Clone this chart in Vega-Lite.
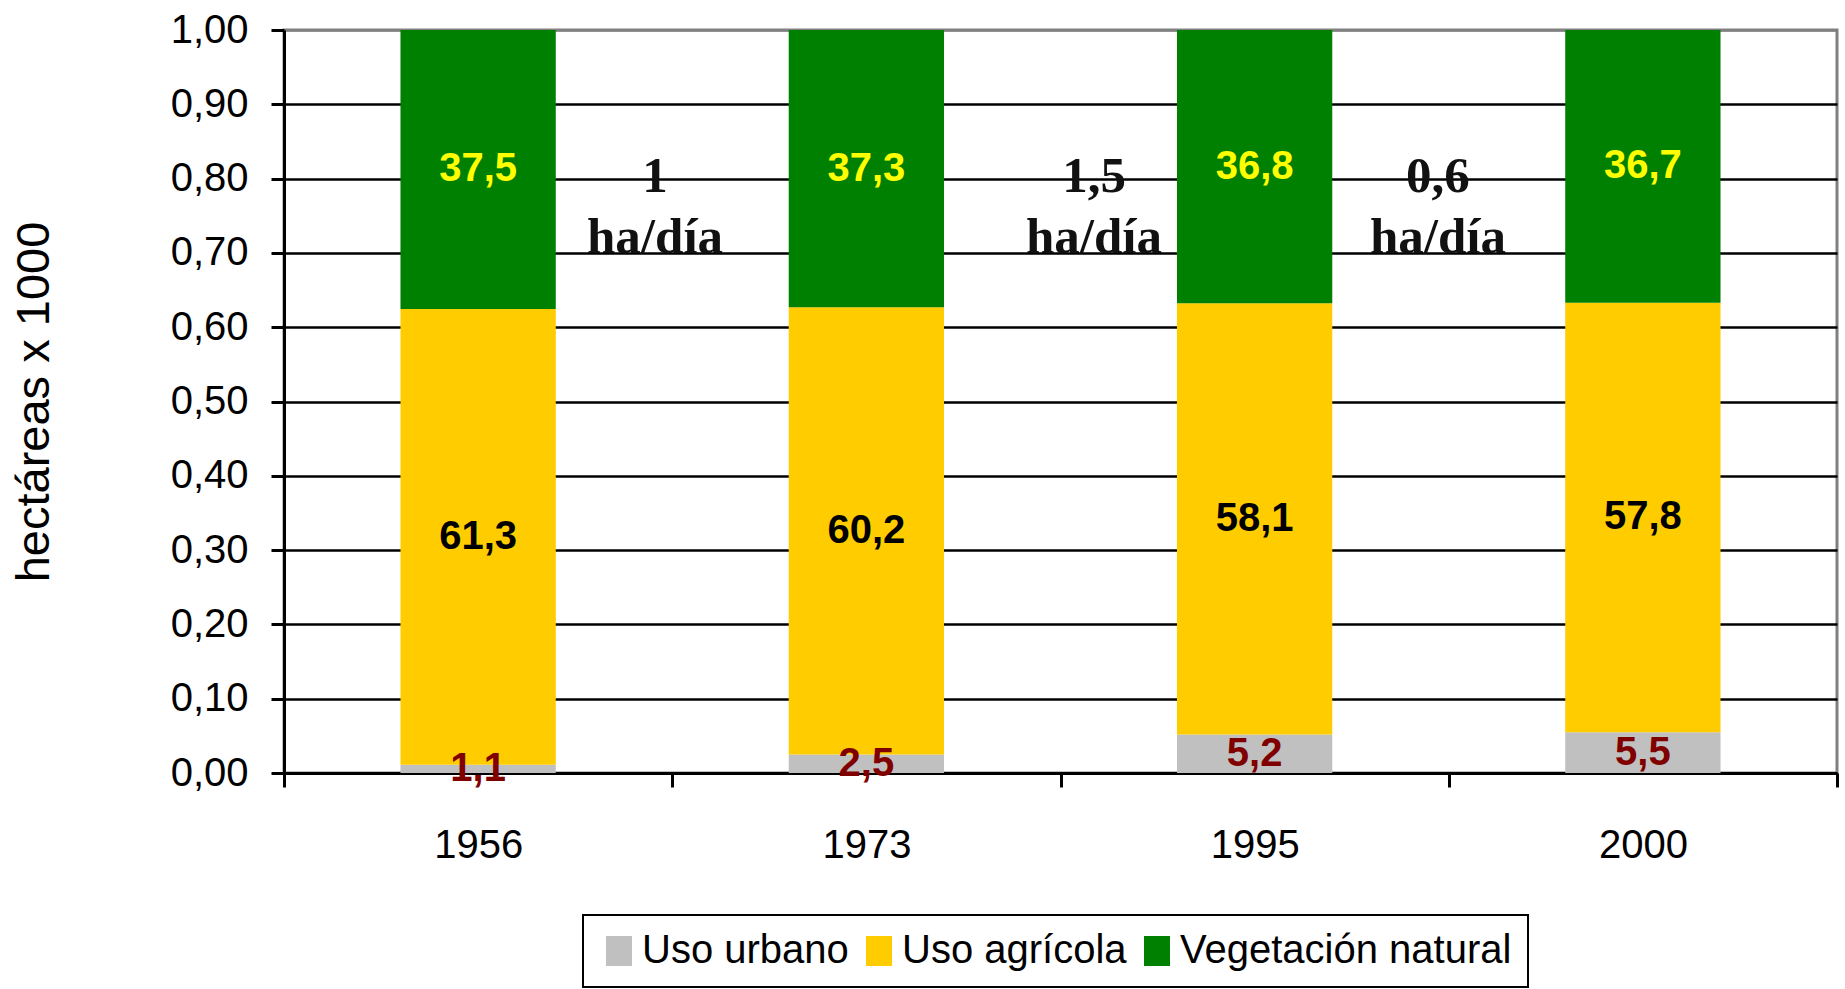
{
  "$schema": "https://vega.github.io/schema/vega-lite/v6.json",
  "width": 1553,
  "height": 743,
  "autosize": {"type": "none"},
  "padding": {"left": 284, "top": 30, "right": 8, "bottom": 216},
  "background": "white",
  "config": {
    "locale": {"number": {"decimal": ",", "thousands": ".", "grouping": [3], "currency": ["", " €"]}},
    "view": {"stroke": "#808080", "strokeWidth": 3},
    "font": "Liberation Sans",
    "axis": {
      "domainColor": "black",
      "domainWidth": 3,
      "tickColor": "black",
      "tickWidth": 3,
      "labelColor": "black",
      "labelFont": "Liberation Sans",
      "labelFontSize": 40,
      "labelFontWeight": "normal"
    },
    "legend": {
      "strokeColor": "black",
      "strokeWidth": 2
    }
  },
  "layer": [
    {
      "data": {"name": "uso", "values": [
        {"year": "1956", "c": "Uso urbano", "v": 1.1},
        {"year": "1956", "c": "Uso agrícola", "v": 61.3},
        {"year": "1956", "c": "Vegetación natural", "v": 37.5},
        {"year": "1973", "c": "Uso urbano", "v": 2.5},
        {"year": "1973", "c": "Uso agrícola", "v": 60.2},
        {"year": "1973", "c": "Vegetación natural", "v": 37.3},
        {"year": "1995", "c": "Uso urbano", "v": 5.2},
        {"year": "1995", "c": "Uso agrícola", "v": 58.1},
        {"year": "1995", "c": "Vegetación natural", "v": 36.8},
        {"year": "2000", "c": "Uso urbano", "v": 5.5},
        {"year": "2000", "c": "Uso agrícola", "v": 57.8},
        {"year": "2000", "c": "Vegetación natural", "v": 36.7}
      ]},
      "transform": [
        {"calculate": "indexof(['Uso urbano','Uso agrícola','Vegetación natural'], datum.c)", "as": "k"},
        {"stack": "v", "groupby": ["year"], "sort": [{"field": "k", "order": "ascending"}], "offset": "normalize", "as": ["y0", "y1"]},
        {"calculate": "(datum.y0 + datum.y1) / 2", "as": "mid"}
      ],
      "layer": [
        {
          "mark": {"type": "bar", "strokeWidth": 0, "width": {"band": 0.4}},
          "encoding": {
            "x": {
              "field": "year", "type": "nominal",
              "scale": {"domain": ["1956", "1973", "1995", "2000"], "paddingInner": 0, "paddingOuter": 0},
              "axis": {"title": null, "labelAngle": 0, "tickBand": "extent", "tickSize": 14, "labelPadding": 38, "grid": false}
            },
            "y": {
              "field": "y0", "type": "quantitative",
              "scale": {"domain": [0, 1], "nice": false, "zero": true},
              "axis": {
                "title": "hectáreas x 1000",
                "titleFont": "Liberation Sans",
                "titleFontSize": 47,
                "titleFontWeight": "normal",
                "titleColor": "black",
                "titlePadding": 112,
                "values": [0, 0.1, 0.2, 0.3, 0.4, 0.5, 0.6, 0.7, 0.8, 0.9, 1],
                "format": ".2f",
                "tickSize": 13,
                "labelPadding": 23,
                "grid": true,
                "gridColor": {"condition": {"test": "datum.value >= 1", "value": "#808080"}, "value": "black"},
                "gridWidth": 2.5
              }
            },
            "y2": {"field": "y1"},
            "color": {
              "field": "c", "type": "nominal",
              "scale": {"domain": ["Uso urbano", "Uso agrícola", "Vegetación natural"], "range": ["#C0C0C0", "#FFCC00", "#008000"]},
              "legend": {
                "title": null,
                "orient": "none",
                "direction": "horizontal",
                "legendX": 299,
                "legendY": 885,
                "labelFont": "Liberation Sans",
                "labelFontSize": 40,
                "labelColor": "black",
                "labelLimit": 0,
                "labelOffset": 3,
                "columnPadding": 10,
                "padding": 16,
                "symbolType": "M-0.867,-1H0.867V1H-0.867Z",
                "symbolSize": 900,
                "symbolStrokeWidth": 0,
                "symbolOpacity": 1,
                "strokeColor": "black"
              }
            }
          }
        },
        {
          "mark": {"type": "text", "font": "Liberation Sans", "fontSize": 40, "fontWeight": "bold", "baseline": "middle", "align": "center"},
          "encoding": {
            "x": {"field": "year", "type": "nominal"},
            "y": {"field": "mid", "type": "quantitative"},
            "text": {"field": "v", "type": "quantitative", "format": ".1f"},
            "fill": {
              "field": "c", "type": "nominal",
              "scale": {"domain": ["Uso urbano", "Uso agrícola", "Vegetación natural"], "range": ["#800000", "#000000", "#FFFF00"]},
              "legend": null
            }
          }
        }
      ]
    },
    {
      "data": {"values": [{"year": "1956", "t": "1\nha/día"}]},
      "mark": {"type": "text", "font": "Liberation Serif", "fontSize": 51, "fontWeight": "bold", "color": "#111111", "align": "center", "baseline": "alphabetic", "lineBreak": "\n", "lineHeight": 61},
      "encoding": {
        "x": {"field": "year", "type": "nominal", "bandPosition": 0.9556},
        "y": {"datum": 0.7825, "type": "quantitative"},
        "text": {"field": "t"}
      }
    },
    {
      "data": {"values": [{"year": "1973", "t": "1,5\nha/día"}]},
      "mark": {"type": "text", "font": "Liberation Serif", "fontSize": 51, "fontWeight": "bold", "color": "#111111", "align": "center", "baseline": "alphabetic", "lineBreak": "\n", "lineHeight": 61},
      "encoding": {
        "x": {"field": "year", "type": "nominal", "bandPosition": 1.0863},
        "y": {"datum": 0.7825, "type": "quantitative"},
        "text": {"field": "t"}
      }
    },
    {
      "data": {"values": [{"year": "1995", "t": "0,6\nha/día"}]},
      "mark": {"type": "text", "font": "Liberation Serif", "fontSize": 51, "fontWeight": "bold", "color": "#111111", "align": "center", "baseline": "alphabetic", "lineBreak": "\n", "lineHeight": 61},
      "encoding": {
        "x": {"field": "year", "type": "nominal", "bandPosition": 0.9723},
        "y": {"datum": 0.7825, "type": "quantitative"},
        "text": {"field": "t"}
      }
    }
  ]
}
